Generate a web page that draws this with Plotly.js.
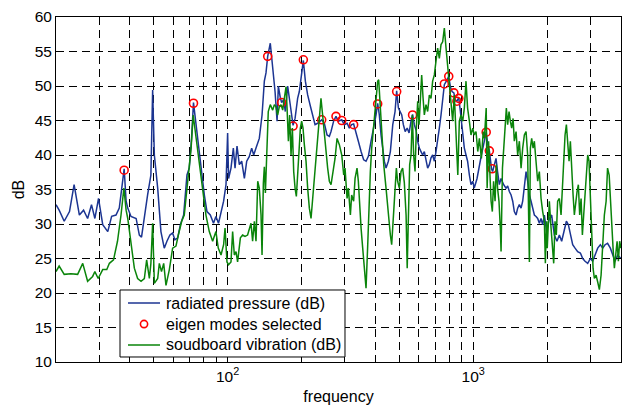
<!DOCTYPE html>
<html>
<head>
<meta charset="utf-8">
<script src="https://cdn.plot.ly/plotly-3.0.1.min.js"></script>
<style>
html,body{margin:0;padding:0;background:#fff;}
#chart{width:623px;height:405px;}
</style>
</head>
<body>
<div id="chart"></div>
<script>
// radiated pressure (dB)
const pressureFreq = [20.0,20.6,21.6,22.7,23.7,24.9,25.9,26.9,27.9,28.8,29.8,31.0,32.5,33.7,35.1,36.2,37.9,38.6,39.2,40.4,42.4,43.7,44.6,45.8,47.2,48.7,49.5,50.3,51.9,53.5,55.2,56.6,58.2,59.7,61.0,62.6,64.2,66.2,68.3,69.8,71.3,72.6,74.6,76.7,78.3,80.4,82.4,85.0,87.6,89.6,91.8,94.0,96.3,98.5,100.0,100.9,103.2,105.5,107.2,109.2,111.6,114.1,117.0,119.6,122.6,125.3,127.7,130.5,134.6,138.1,141.1,143.3,145.6,149.2,152.6,156.0,159.0,160.9,163.9,166.0,169.1,171.8,175.6,178.9,181.2,184.7,188.2,192.8,195.9,200.2,203.4,207.3,211.8,217.2,221.9,227.0,232.6,238.0,241.6,247.7,254.0,259.6,263.7,270.2,276.3,282.4,291.6,298.8,306.5,313.1,320.0,326.0,333.4,340.7,349.5,358.1,366.2,374.2,383.8,393.2,402.2,408.4,414.8,421.5,427.9,434.7,441.7,451.4,460.0,470.5,480.7,488.0,496.1,503.7,511.8,519.6,528.6,538.7,548.1,558.5,566.5,576.0,585.3,594.3,603.6,613.1,622.6,632.6,642.5,652.6,662.9,673.5,683.9,694.8,705.7,716.7,728.1,739.7,751.3,763.1,777.6,795.3,807.2,820.5,834.5,844.3,858.6,873.7,887.0,900.3,912.2,920.5,935.0,949.1,965.0,980.0,996.4,1010,1037,1058,1080,1103,1130,1147,1164,1188,1200,1220,1239,1257,1278,1299,1331,1361,1382,1404,1427,1449,1471,1495,1518,1542,1567,1591,1616,1642,1667,1694,1721,1747,1775,1803,1831,1860,1890,1919,1950,1991,2043,2088,2141,2194,2244,2293,2352,2397,2442,2488,2543,2600,2664,2733,2793,2855,2927,3001,3067,3137,3215,3296,3368,3445,3526,3620,3700,3783,3878,4000];
const pressureDb = [32.8,32.0,30.4,31.8,35.7,31.3,32.0,30.8,32.8,30.8,33.7,29.9,28.9,31.1,31.3,32.3,38.0,33.3,32.3,31.1,30.8,28.4,28.1,31.3,34.2,37.1,49.4,40.0,35.2,28.9,26.5,27.5,28.4,28.7,27.7,28.0,29.9,31.3,37.1,38.1,42.4,47.6,43.9,40.0,37.1,34.2,31.8,31.3,30.1,31.1,30.1,31.8,33.3,35.7,43.2,36.6,38.1,41.0,38.1,41.3,38.6,39.1,36.6,39.1,39.8,41.0,40.0,41.0,42.4,45.8,50.7,51.9,54.3,56.2,53.1,49.2,44.9,50.0,48.3,47.6,48.0,46.3,50.0,47.8,45.8,44.3,45.3,48.2,49.2,52.1,53.7,50.7,48.7,47.1,45.8,44.4,44.6,44.9,45.1,44.6,42.9,42.7,43.4,44.9,45.6,44.9,45.1,44.4,44.6,43.9,44.4,44.5,43.4,42.0,40.5,39.3,39.1,39.8,42.0,43.9,45.8,47.5,45.8,42.9,41.0,39.1,38.1,39.1,40.5,44.4,46.3,49.3,46.8,46.3,45.8,44.4,43.4,43.9,43.2,44.9,45.9,44.4,43.6,42.0,41.0,40.5,40.0,40.5,39.1,38.1,38.6,39.6,40.0,39.1,40.5,42.0,43.9,45.8,47.8,50.2,50.7,51.4,49.9,49.2,49.0,48.0,47.8,48.3,46.3,44.4,42.4,41.0,40.0,39.1,37.1,35.7,36.2,35.2,36.6,38.6,40.0,41.5,43.3,41.5,40.6,38.0,37.6,38.6,39.5,37.6,35.7,36.6,35.7,35.2,35.5,34.7,34.2,33.3,31.8,31.3,32.3,32.8,32.3,33.3,35.2,37.6,36.2,34.2,33.3,32.3,31.3,31.1,30.8,30.1,30.8,29.9,31.3,28.9,30.8,31.3,28.4,27.5,28.4,27.5,29.4,30.4,29.9,28.4,27.0,26.5,26.0,25.8,25.0,24.6,24.3,25.0,24.6,25.5,26.5,27.0,26.5,27.0,27.2,26.5,25.5,24.6,25.5,25.0];

// eigen modes selected
const modeFreq = [37.9,72.6,145.6,166.0,184.7,203.4,241.6,276.3,291.6,326.0,408.4,488.0,566.5,763.1,795.3,834.5,858.6,873.7,1130,1164,1195];
const modeDb = [37.8,47.5,54.3,47.6,44.2,53.8,45.1,45.6,45.0,44.4,47.4,49.2,45.8,50.3,51.4,49.0,47.8,48.2,43.3,40.6,38.0];

// soudboard vibration (dB)
const vibrationFreq = [20.0,20.6,21.6,23.0,24.5,25.7,26.9,28.2,28.8,29.7,31.0,32.2,33.0,34.3,35.6,36.8,37.8,38.6,39.2,40.4,41.7,43.0,44.4,45.8,46.8,48.0,48.7,49.5,50.3,51.9,52.7,53.8,54.9,56.1,57.9,59.7,61.6,63.0,65.0,66.6,68.7,71.0,72.4,74.6,76.7,79.1,81.6,84.2,86.9,89.6,91.6,94.0,96.3,97.6,99.4,100.9,103.2,104.8,106.5,108.2,109.8,112.7,115.1,117.7,120.6,124.5,126.4,128.5,130.5,132.6,134.6,136.8,138.1,139.8,141.1,142.5,144.7,146.4,149.2,152.6,155.0,157.4,159.8,162.4,165.0,167.6,170.2,173.0,174.6,176.8,178.9,181.2,183.5,185.8,188.2,190.5,192.8,195.4,197.8,200.2,202.8,205.3,208.6,211.8,215.2,218.6,222.8,227.0,231.4,236.3,240.0,243.7,247.7,251.6,255.5,259.6,263.7,268.7,273.8,279.0,285.1,291.6,297.0,300.7,306.5,310.2,316.2,320.0,326.0,330.4,336.5,340.7,345.1,349.5,354.9,360.4,366.2,371.6,376.5,381.3,386.1,393.2,398.5,403.4,408.4,412.3,417.6,424.2,432.3,441.7,451.4,460.0,465.7,474.5,480.7,486.6,492.4,500.4,508.4,516.1,524.4,533.1,538.7,545.3,551.3,558.5,565.3,572.3,579.8,587.1,594.3,601.9,609.4,617.0,625.0,632.6,642.5,652.6,662.9,673.5,683.9,694.8,705.7,716.7,728.1,739.7,751.3,763.1,775.4,787.4,799.7,812.3,825.3,838.1,851.7,865.9,878.3,892.3,906.6,920.5,935.0,949.1,965.0,980.0,996.4,1010,1027,1044,1060,1080,1099,1111,1130,1140,1155,1168,1183,1197,1211,1228,1243,1257,1274,1290,1299,1316,1331,1349,1365,1382,1400,1417,1435,1454,1471,1495,1518,1542,1567,1591,1616,1642,1667,1694,1710,1731,1754,1775,1803,1831,1860,1890,1919,1950,1968,1991,2003,2043,2076,2107,2128,2155,2181,2208,2244,2280,2315,2337,2367,2397,2426,2458,2488,2519,2552,2583,2615,2649,2682,2715,2751,2785,2819,2855,2890,2927,2964,3001,3038,3078,3116,3166,3215,3266,3319,3368,3422,3479,3526,3580,3620,3665,3713,3759,3806,3856,3903,3950,4000];
const vibrationDb = [23.1,23.9,22.7,22.8,22.7,24.3,21.7,22.4,23.1,22.1,23.4,23.4,24.3,24.8,27.5,31.3,35.2,32.0,30.8,27.0,23.6,22.1,21.7,22.1,24.8,22.1,24.3,30.1,21.4,22.1,24.3,23.1,24.3,21.1,23.4,26.5,26.8,28.4,30.4,31.3,35.7,41.0,45.8,42.0,38.6,35.2,31.3,28.9,27.5,28.9,26.5,25.5,27.0,29.4,24.5,24.1,24.5,28.9,25.5,26.0,24.5,28.0,28.4,28.2,28.4,30.1,27.5,30.4,27.5,36.2,35.2,31.3,25.5,35.9,38.3,34.5,41.0,46.3,47.3,46.5,47.3,47.0,45.8,47.0,47.3,46.5,48.2,49.9,46.8,42.0,45.8,40.0,43.9,37.6,35.2,34.0,37.1,41.5,43.9,44.9,43.9,41.5,39.1,35.2,32.3,30.8,34.2,38.1,42.0,45.3,48.2,45.8,42.9,40.0,38.1,36.2,35.7,37.6,39.5,42.4,41.5,40.0,37.1,38.1,33.7,35.2,31.3,34.2,33.3,36.6,38.1,36.2,32.3,29.4,26.5,23.6,20.7,26.5,33.3,37.6,41.0,43.9,46.3,48.2,50.7,50.9,47.1,42.9,38.6,35.2,31.3,28.4,27.0,31.3,35.2,38.1,36.2,35.2,37.6,38.1,36.0,31.3,23.6,33.3,38.6,40.0,45.8,40.0,37.6,43.9,47.8,44.4,47.8,51.6,48.3,45.8,47.3,46.3,48.7,48.2,50.7,51.6,53.6,55.5,54.0,56.0,56.4,58.4,55.5,53.1,50.7,48.2,44.9,48.7,43.4,37.1,44.9,45.8,44.9,46.8,50.7,46.8,44.9,42.9,43.9,42.9,43.4,40.5,42.4,39.5,43.4,42.4,46.8,35.2,42.0,37.6,33.3,31.8,36.2,33.3,38.6,35.2,33.3,29.4,26.0,38.1,41.0,43.4,46.8,44.4,46.3,44.9,43.9,45.3,42.0,43.4,40.0,42.0,38.1,41.0,42.9,43.4,40.0,24.5,41.0,42.4,41.0,42.0,39.1,36.2,37.6,33.7,31.8,30.4,24.3,30.4,26.5,33.3,29.4,26.5,24.3,30.4,28.4,33.3,33.7,31.3,37.1,40.0,42.9,44.4,42.0,39.1,42.0,37.6,34.2,31.3,33.3,34.7,35.7,31.3,33.7,28.4,31.3,34.7,37.1,40.0,39.1,33.3,26.5,23.6,22.1,22.6,21.6,20.5,22.6,26.5,31.3,33.3,38.1,37.1,33.3,29.4,26.5,23.6,25.5,27.5,24.6,27.5,26.5];

const seriesNames = ['radiated pressure (dB)', 'eigen modes selected', 'soudboard vibration (dB)'];
const xMajorTicks = [100, 1000];
const xMajorLabels = ['10<sup>2</sup>', '10<sup>3</sup>'];
const xMinorTicks = [20,30,40,50,60,70,80,90,200,300,400,500,600,700,800,900,2000,3000];
const yTicks = [10,15,20,25,30,35,40,45,50,55,60];

const FONT = 'Liberation Sans, Arial, Helvetica, sans-serif';
const gridDash = '8px,5px';
const BLUE = '#1c3592', RED = '#ff0000', GREEN = '#0a840a';

const traces = [
  {x: pressureFreq, y: pressureDb, type: 'scatter', mode: 'lines',
   name: seriesNames[0], line: {color: BLUE, width: 1.5}},
  {x: modeFreq, y: modeDb, type: 'scatter', mode: 'markers',
   name: seriesNames[1],
   marker: {symbol: 'circle-open', size: 8, color: RED, line: {width: 1.6, color: RED}}},
  {x: vibrationFreq, y: vibrationDb, type: 'scatter', mode: 'lines',
   name: seriesNames[2], line: {color: GREEN, width: 1.5}}
];

// legend box (drawn in paper coordinates, MATLAB style)
const L = {x0: 0.1133, x1: 0.5115, y0: 0.0145, y1: 0.2087,
           rows: [0.1710, 0.1101, 0.0493], lx0: 0.1274, lx1: 0.1841, cx: 0.1558, tx: 0.1912};
const rx = 3.6 / 565, ry = 3.6 / 345;
const shapes = [
  {type: 'rect', xref: 'paper', yref: 'paper', x0: L.x0, x1: L.x1, y0: L.y0, y1: L.y1,
   fillcolor: '#ffffff', line: {color: '#000', width: 1}, layer: 'above'},
  {type: 'line', xref: 'paper', yref: 'paper', x0: L.lx0, x1: L.lx1, y0: L.rows[0], y1: L.rows[0],
   line: {color: BLUE, width: 1.5}, layer: 'above'},
  {type: 'circle', xref: 'paper', yref: 'paper', x0: L.cx - rx, x1: L.cx + rx, y0: L.rows[1] - ry, y1: L.rows[1] + ry,
   line: {color: RED, width: 1.6}, layer: 'above'},
  {type: 'line', xref: 'paper', yref: 'paper', x0: L.lx0, x1: L.lx1, y0: L.rows[2], y1: L.rows[2],
   line: {color: GREEN, width: 1.5}, layer: 'above'}
];
const annotations = seriesNames.map((name, i) => ({
  xref: 'paper', yref: 'paper', x: L.tx, y: L.rows[i], xanchor: 'left', yanchor: 'middle',
  text: name, showarrow: false, font: {family: FONT, size: 16, color: '#000'}
}));

const layout = {
  width: 623, height: 405,
  margin: {l: 56, r: 2, t: 17, b: 43},
  paper_bgcolor: '#ffffff', plot_bgcolor: '#ffffff',
  font: {family: FONT, size: 15.5, color: '#000'},
  showlegend: false,
  shapes: shapes,
  annotations: annotations,
  xaxis: {
    type: 'log', range: [Math.log10(20), Math.log10(4000)],
    tickmode: 'array', tickvals: xMajorTicks, ticktext: xMajorLabels,
    ticks: 'inside', ticklen: 5, tickcolor: '#000',
    showline: true, linecolor: '#000', linewidth: 1, mirror: 'allticks',
    showgrid: true, gridcolor: '#000', gridwidth: 1, griddash: gridDash,
    zeroline: false,
    minor: {tickmode: 'array', tickvals: xMinorTicks, ticks: 'inside', ticklen: 3,
      tickcolor: '#000', showgrid: true, gridcolor: '#000', gridwidth: 1, griddash: gridDash},
    title: {text: 'frequency', font: {family: FONT, size: 16, color: '#000'}, standoff: 8},
    tickfont: {family: FONT, size: 15.5, color: '#000'}
  },
  yaxis: {
    range: [10, 60], tickmode: 'array', tickvals: yTicks,
    ticks: 'inside', ticklen: 5, tickcolor: '#000',
    showline: true, linecolor: '#000', linewidth: 1, mirror: 'allticks',
    showgrid: true, gridcolor: '#000', gridwidth: 1, griddash: gridDash,
    zeroline: false,
    title: {text: 'dB', font: {family: FONT, size: 16, color: '#000'}, standoff: 6},
    tickfont: {family: FONT, size: 15.5, color: '#000'}
  }
};

Plotly.newPlot('chart', traces, layout, {displayModeBar: false, staticPlot: true});
</script>
</body>
</html>
